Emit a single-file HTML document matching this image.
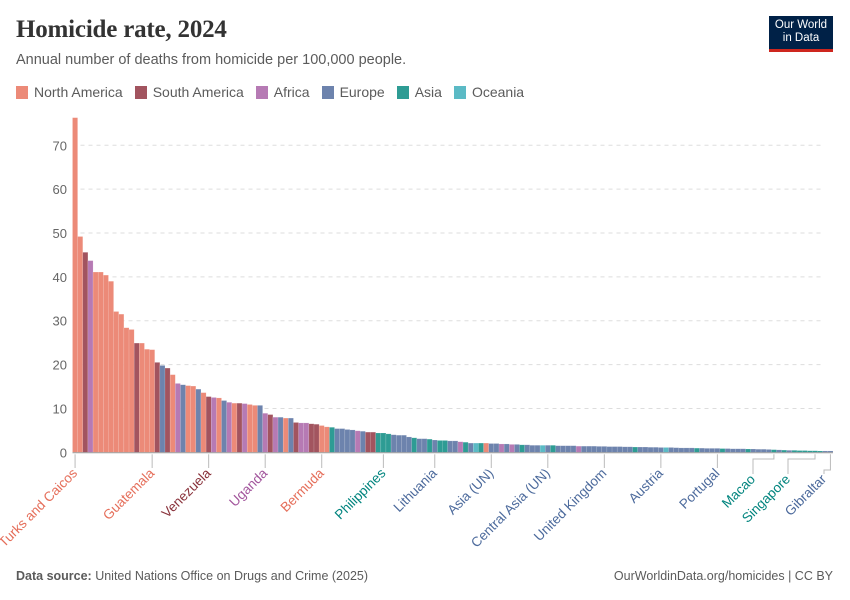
<!DOCTYPE html>
<html><head><meta charset="utf-8">
<style>
body{margin:0;background:#fff;font-family:"Liberation Sans",sans-serif;}
#wrap{position:relative;width:850px;height:600px;overflow:hidden;}
.title{position:absolute;left:16px;top:16px;font-family:"Liberation Serif",serif;font-size:25px;color:#333;font-weight:bold;letter-spacing:-0.2px;}
.sub{position:absolute;left:16px;top:52px;font-size:14.5px;color:#5b5b5b;}
.logo{position:absolute;left:769px;top:16px;width:64px;height:36px;background:#002147;color:#fff;font-size:11.5px;line-height:13px;text-align:center;padding-top:3px;box-sizing:border-box;border-bottom:3px solid #ce261e;}
.legend{position:absolute;left:16px;top:84px;font-size:14px;color:#5b5b5b;display:flex;}
.legend span{display:flex;align-items:center;margin-right:12px;}
.legend i{display:inline-block;width:12px;height:13px;margin-right:6px;}
.foot{position:absolute;top:569px;font-size:12.5px;color:#5b5b5b;}
</style></head><body>
<div id="wrap">
<div class="title">Homicide rate, 2024</div>
<div class="sub">Annual number of deaths from homicide per 100,000 people.</div>
<div class="logo">Our World<br>in Data</div>
<div class="legend">
<span><i style="background:#ec8a78"></i>North America</span>
<span><i style="background:#a2545f"></i>South America</span>
<span><i style="background:#b67ab4"></i>Africa</span>
<span><i style="background:#6d83ad"></i>Europe</span>
<span><i style="background:#2e9c94"></i>Asia</span>
<span><i style="background:#5bbac5"></i>Oceania</span>
</div>
<svg id="chart" width="850" height="600" style="position:absolute;left:0;top:0"></svg>
<div class="foot" style="left:16px"><b>Data source:</b> United Nations Office on Drugs and Crime (2025)</div>
<div class="foot" style="right:17px">OurWorldinData.org/homicides | CC BY</div>
</div>
<script>
const values=[76.3,49.2,45.6,43.7,41.1,41.1,40.4,39.0,32.1,31.5,28.4,28.0,24.9,24.9,23.5,23.4,20.5,19.8,19.2,17.7,
15.7,15.4,15.2,15.1,14.4,13.6,12.7,12.5,12.4,11.8,11.4,11.2,11.2,11.1,10.9,10.7,10.7,8.9,8.6,8.0,
8.0,7.8,7.8,6.8,6.7,6.7,6.5,6.4,6.1,5.8,5.7,5.4,5.4,5.2,5.1,4.9,4.8,4.6,4.6,4.4,
4.4,4.2,4.0,3.9,3.9,3.5,3.3,3.1,3.1,3.0,2.8,2.7,2.7,2.6,2.6,2.4,2.3,2.1,2.1,2.1,
2.1,2.0,2.0,1.9,1.9,1.8,1.8,1.7,1.7,1.6,1.6,1.6,1.6,1.6,1.5,1.5,1.5,1.5,1.4,1.4,
1.4,1.4,1.35,1.35,1.3,1.3,1.3,1.25,1.25,1.2,1.2,1.2,1.15,1.15,1.1,1.1,1.1,1.05,1.0,1.0,
1.0,0.95,0.95,0.9,0.9,0.9,0.85,0.85,0.8,0.8,0.8,0.75,0.75,0.7,0.7,0.65,0.6,0.55,0.5,0.45,
0.45,0.4,0.4,0.35,0.35,0.3,0.3,0.3];
const regions=("NA NA SA AF NA NA NA NA NA NA NA NA SA NA NA NA SA EU SA NA "+
"AF EU NA NA EU NA SA AF NA EU AF NA SA AF NA NA EU AF SA AF "+
"EU NA EU SA AF AF SA SA NA NA AS EU EU EU EU AF EU SA SA AS "+
"AS AS EU EU EU EU AS EU EU AS EU AS AS EU EU AF AS EU OC AS "+
"NA EU EU AF EU AF EU AS EU EU EU OC EU AS EU EU EU EU AF EU "+
"EU EU EU EU EU EU EU EU EU AS EU EU EU EU EU OC EU EU EU EU "+
"EU AS EU EU EU EU AS EU EU EU EU AS EU EU EU EU AS EU AS EU "+
"AS AS AS AS AS AS EU EU").split(" ");
const labelIdx=[0,15,26,37,48,60,70,81,92,103,114,125,136,144,147];
const labelNames=["Turks and Caicos","Guatemala","Venezuela","Uganda","Bermuda","Philippines","Lithuania","Asia (UN)","Central Asia (UN)","United Kingdom","Austria","Portugal","Macao","Singapore","Gibraltar"];
const yTicks=[0,10,20,30,40,50,60,70];
const fill={NA:"#ec8a78",SA:"#a2545f",AF:"#b67ab4",EU:"#6d83ad",AS:"#2e9c94",OC:"#5bbac5"};
const txt={NA:"#e56e5a",SA:"#883039",AF:"#a2559c",EU:"#4c6a9c",AS:"#00847e",OC:"#2c9fae"};
const svg=document.getElementById('chart');
const NS="http://www.w3.org/2000/svg";
const x0=72.5,x1=833,y0=452.3,yTop=145.3;
const bw=(x1-x0)/values.length;
const xs=i=>x0+i*bw;
const ys=v=>y0-(v/70)*(y0-yTop);
function mk(t,a){const e=document.createElementNS(NS,t);for(const k in a)e.setAttribute(k,a[k]);svg.appendChild(e);return e;}
yTicks.forEach(t=>{
  if(t>0){const g=mk('line',{x1:x0,x2:x1-10,y1:ys(t),y2:ys(t),stroke:'#ddd','stroke-dasharray':'4,4'});
  
  }
  const l=mk('text',{x:67,y:ys(t)+5,'text-anchor':'end','font-size':13,fill:'#666','font-family':'Liberation Sans'});
  l.textContent=t;
  
  
});
values.forEach((v,i)=>{
  const r=mk('rect',{x:xs(i),y:ys(v),width:bw,height:y0-ys(v),fill:fill[regions[i]],stroke:'rgba(255,255,255,0.25)','stroke-width':0.5});
  
  
});
const ax=mk('line',{x1:x0,x2:x1,y1:y0+0.5,y2:y0+0.5,stroke:'#999'});


const labelX=[null,null,null,null,null,null,null,null,null,null,null,null,753,788,824];
labelIdx.forEach((idx,k)=>{
  const cx=xs(idx)+bw/2;
  let lx=cx;
  let d;
  if(labelX[k]!==null){
    lx=labelX[k];
    const mid=k===14?470:459;
    d=`M${cx},${y0+2}V${mid}H${lx}V474`;
  } else d=`M${cx},${y0+2}V468`;
  const p=mk('path',{d:d,stroke:'#bbb',fill:'none'});
  
  
  const ly=labelX[k]!==null?480:474;
  const t=mk('text',{x:lx+3,y:ly,'text-anchor':'end','font-size':13.5,fill:txt[regions[idx]],'font-family':'Liberation Sans',transform:`rotate(-45 ${lx+3} ${ly})`});
  t.textContent=labelNames[k];
  
  
});
</script>
</body></html>
